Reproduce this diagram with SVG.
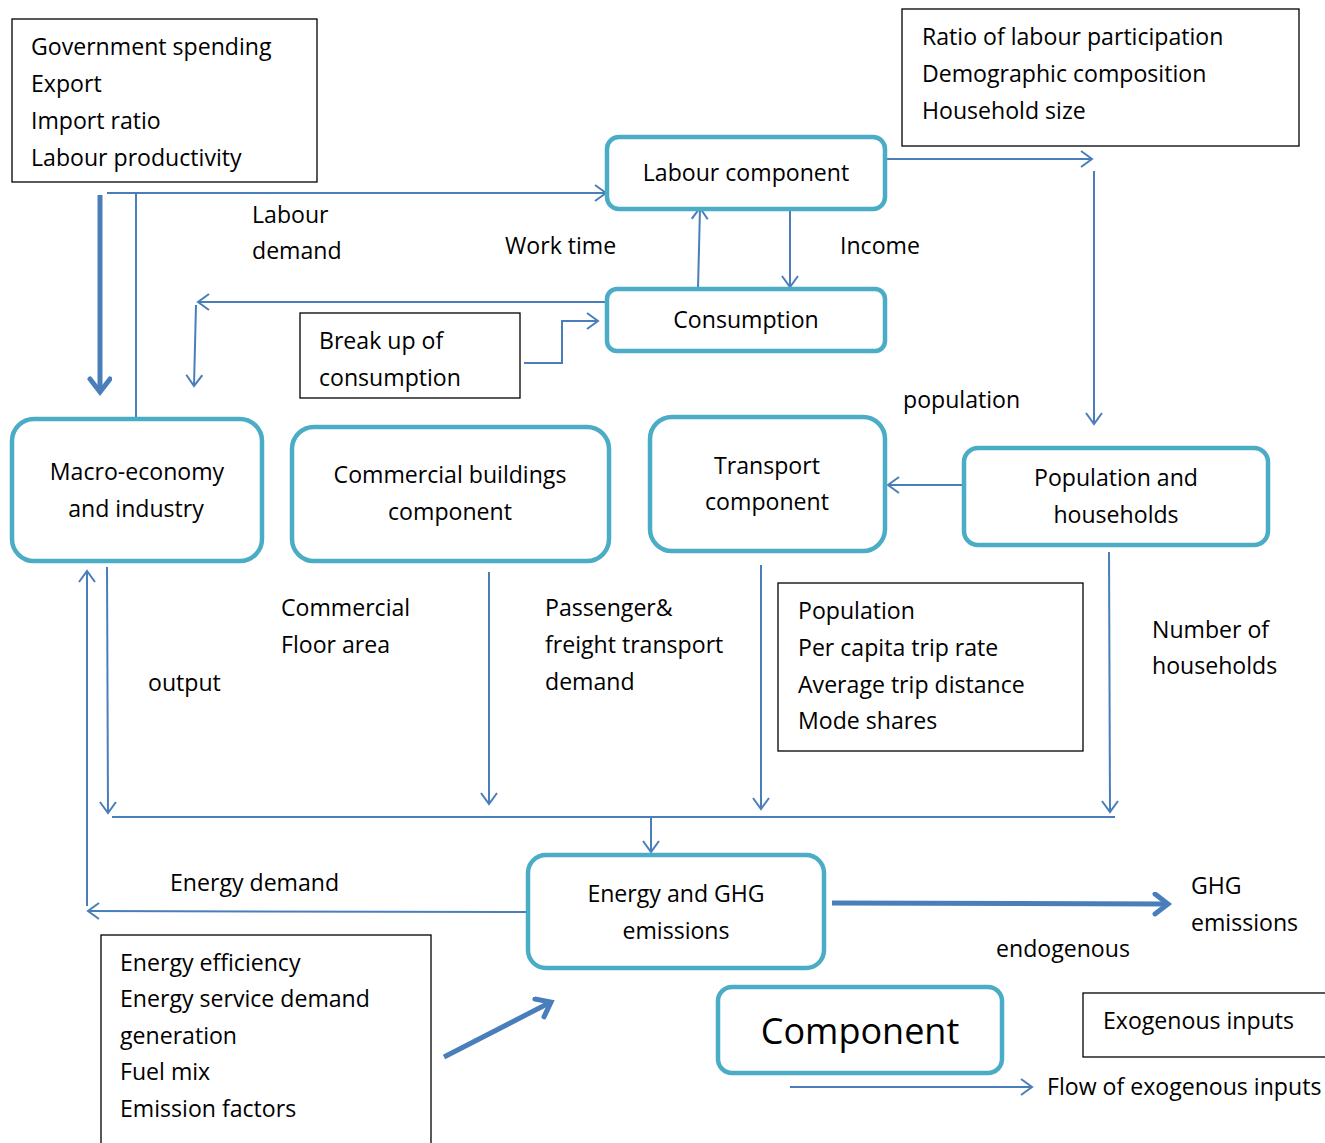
<svg xmlns="http://www.w3.org/2000/svg" width="1325" height="1143" viewBox="0 0 1325 1143">
<defs>
<style>
text{font-family:"Open Sans","Liberation Sans",sans-serif;font-size:23.1px;fill:#000}
.c{text-anchor:middle}
.box{fill:#fff;stroke:#000;stroke-width:1.3}
.comp{fill:#fff;stroke:#4BACC6;stroke-width:4.5}
.ln{fill:none;stroke:#4A7EBB;stroke-width:2}
.thick{fill:none;stroke:#4A7EBB;stroke-width:5}
</style>
<marker id="a" markerUnits="userSpaceOnUse" markerWidth="24" markerHeight="24" refX="13" refY="9" orient="auto" viewBox="0 0 24 24">
<path d="M2,1 L13,9 L2,17" fill="none" stroke="#4A7EBB" stroke-width="2"/>
</marker>
<marker id="b" markerUnits="userSpaceOnUse" markerWidth="30" markerHeight="30" refX="16" refY="12" orient="auto" viewBox="0 0 30 30">
<path d="M3,2 L16,12 L3,22" fill="none" stroke="#4A7EBB" stroke-width="5" stroke-linecap="round"/>
</marker>
</defs>
<rect width="1325" height="1143" fill="#fff"/>

<g id="connectors">
<line class="thick" x1="100" y1="195" x2="100" y2="392" marker-end="url(#b)"/>
<polyline class="ln" points="136,419 136,193"/>
<line class="ln" x1="107" y1="193" x2="606" y2="193" marker-end="url(#a)"/>
<line class="ln" x1="607" y1="302" x2="198" y2="302" marker-end="url(#a)"/>
<line class="ln" x1="196" y1="305" x2="194" y2="386" marker-end="url(#a)"/>
<polyline class="ln" points="524,363 562,363 562,321 598,321" marker-end="url(#a)"/>
<line class="ln" x1="698" y1="289" x2="700" y2="208" marker-end="url(#a)"/>
<line class="ln" x1="790" y1="208" x2="790" y2="287" marker-end="url(#a)"/>
<line class="ln" x1="886" y1="159" x2="1092" y2="159" marker-end="url(#a)"/>
<line class="ln" x1="1094" y1="171" x2="1094" y2="424" marker-end="url(#a)"/>
<line class="ln" x1="964" y1="485" x2="888" y2="485" marker-end="url(#a)"/>
<line class="ln" x1="107" y1="567" x2="108" y2="813" marker-end="url(#a)"/>
<line class="ln" x1="87" y1="906" x2="87" y2="571" marker-end="url(#a)"/>
<line class="ln" x1="530" y1="912" x2="88" y2="911" marker-end="url(#a)"/>
<line class="ln" x1="489" y1="572" x2="489" y2="804" marker-end="url(#a)"/>
<line class="ln" x1="761" y1="565" x2="761" y2="809" marker-end="url(#a)"/>
<line class="ln" x1="1109" y1="552" x2="1110" y2="812" marker-end="url(#a)"/>
<line class="ln" x1="112" y1="817" x2="1115" y2="817"/>
<line class="ln" x1="651" y1="817" x2="651" y2="852" marker-end="url(#a)"/>
<line class="thick" x1="832" y1="903" x2="1168" y2="904" stroke-width="4.5" marker-end="url(#b)"/>
<line class="thick" x1="444" y1="1057" x2="551" y2="1002" marker-end="url(#b)"/>
<line class="ln" x1="790" y1="1087" x2="1032" y2="1087" marker-end="url(#a)"/>
</g>

<g id="gov-inputs">
<rect class="box" x="12" y="19" width="305" height="163"/>
<text x="31" y="55">Government spending</text>
<text x="31" y="92">Export</text>
<text x="31" y="129">Import ratio</text>
<text x="31" y="166">Labour productivity</text>
</g>
<g id="labour-inputs">
<rect class="box" x="902" y="9" width="397" height="137"/>
<text x="922" y="45">Ratio of labour participation</text>
<text x="922" y="82">Demographic composition</text>
<text x="922" y="119">Household size</text>
</g>
<g id="labour">
<rect class="comp" x="607" y="137" width="278" height="72" rx="12"/>
<text class="c" x="746" y="181">Labour component</text>
</g>
<g id="consumption">
<rect class="comp" x="607" y="289" width="278" height="62" rx="10"/>
<text class="c" x="746" y="328">Consumption</text>
</g>
<g id="breakup">
<rect class="box" x="300" y="313" width="220" height="85"/>
<text x="319" y="349">Break up of</text>
<text x="319" y="386">consumption</text>
</g>
<g id="macro">
<rect class="comp" x="12" y="419" width="250" height="142" rx="22"/>
<text class="c" x="137" y="480">Macro-economy</text>
<text class="c" x="136" y="517">and industry</text>
</g>
<g id="commercial">
<rect class="comp" x="292" y="427" width="317" height="134" rx="22"/>
<text class="c" x="450" y="483">Commercial buildings</text>
<text class="c" x="450" y="520">component</text>
</g>
<g id="transport">
<rect class="comp" x="650" y="417" width="235" height="134" rx="22"/>
<text class="c" x="767" y="474">Transport</text>
<text class="c" x="767" y="510">component</text>
</g>
<g id="population">
<rect class="comp" x="964" y="448" width="304" height="97" rx="14"/>
<text class="c" x="1116" y="486">Population and</text>
<text class="c" x="1116" y="523">households</text>
</g>
<g id="transport-inputs">
<rect class="box" x="778" y="583" width="305" height="168"/>
<text x="798" y="619">Population</text>
<text x="798" y="656">Per capita trip rate</text>
<text x="798" y="693">Average trip distance</text>
<text x="798" y="729">Mode shares</text>
</g>
<g id="energy">
<rect class="comp" x="528" y="855" width="296" height="113" rx="18"/>
<text class="c" x="676" y="902">Energy and GHG</text>
<text class="c" x="676" y="939">emissions</text>
</g>
<g id="energy-inputs">
<rect class="box" x="101" y="935" width="330" height="215"/>
<text x="120" y="971">Energy efficiency</text>
<text x="120" y="1007">Energy service demand</text>
<text x="120" y="1044">generation</text>
<text x="120" y="1080">Fuel mix</text>
<text x="120" y="1117">Emission factors</text>
</g>
<g id="legend-component">
<rect class="comp" x="718" y="987" width="284" height="86" rx="14"/>
<text class="c" x="860" y="1044" style="font-size:36px">Component</text>
</g>
<g id="legend-exogenous">
<rect class="box" x="1083" y="993" width="250" height="64"/>
<text x="1103" y="1029">Exogenous inputs</text>
</g>

<g id="labels">
<text x="252" y="223">Labour</text>
<text x="252" y="259">demand</text>
<text x="505" y="254">Work time</text>
<text x="840" y="254">Income</text>
<text x="903" y="408">population</text>
<text x="281" y="616">Commercial</text>
<text x="281" y="653">Floor area</text>
<text x="148" y="691">output</text>
<text x="545" y="616">Passenger&amp;</text>
<text x="545" y="653">freight transport</text>
<text x="545" y="690">demand</text>
<text x="1152" y="638">Number of</text>
<text x="1152" y="674">households</text>
<text x="170" y="891">Energy demand</text>
<text x="1191" y="894">GHG</text>
<text x="1191" y="931">emissions</text>
<text x="996" y="957">endogenous</text>
<text x="1047" y="1095">Flow of exogenous inputs</text>
</g>
</svg>
